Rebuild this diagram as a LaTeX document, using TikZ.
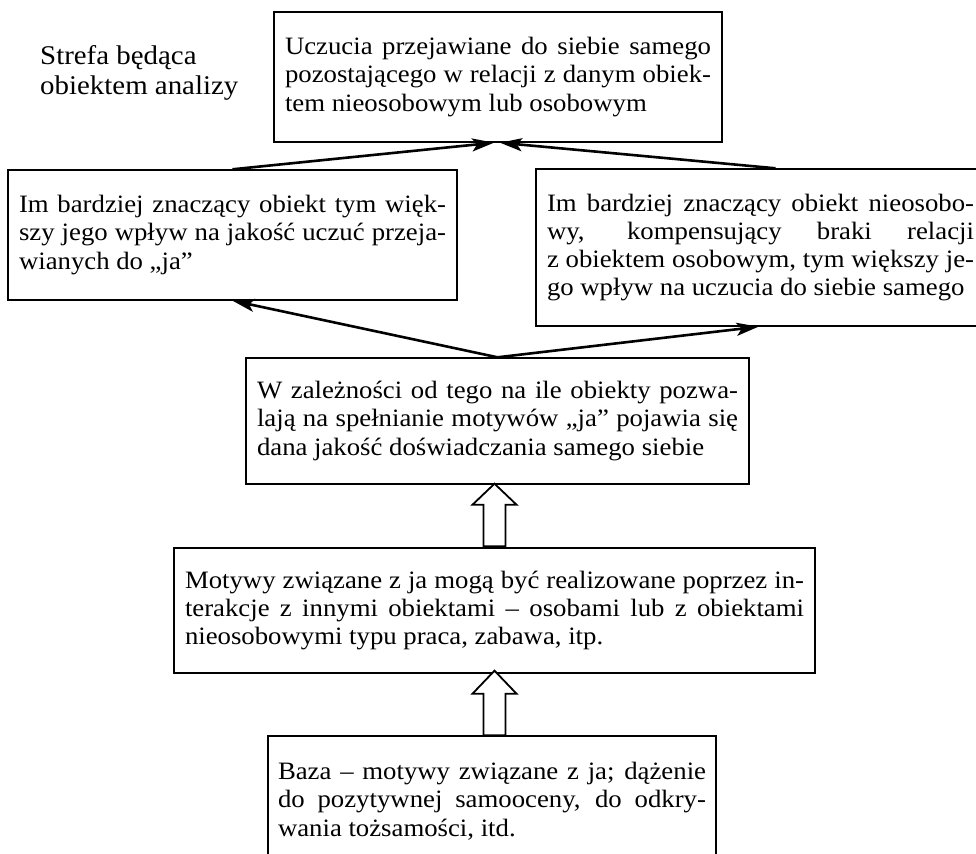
\documentclass[tikz,border=0pt]{standalone}
\usepackage{fontspec}
\setmainfont{Liberation Serif}[FakeStretch=1.07]
\usetikzlibrary{arrows.meta,calc}
\newlength{\boxw}
\newcommand{\jl}[1]{\leavevmode\hbox to \boxw{\spaceskip=\fontdimen2\font plus 1fil minus 0.12em\relax #1}}
\newcommand{\lastl}[1]{\leavevmode\hbox to \boxw{\spaceskip=\fontdimen2\font\relax #1\hfil}}
\begin{document}
\begin{tikzpicture}[x=1pt,y=-1pt,
  box/.style={draw, line width=1.4pt, rectangle, inner sep=0pt, align=left,
    font=\fontsize{25}{28.3}\selectfont},
  conn/.style={line width=2.6pt, -{Stealth[length=22pt,width=13pt,inset=5pt]}},
  hollow/.style={draw, line width=1.8pt, fill=white, line join=miter},
  lbl/.style={align=left, font=\fontsize{27}{30}\selectfont, inner sep=0pt}]
\useasboundingbox (0,0) rectangle (976,853);
\clip (0,0) rectangle (976,853);
\fill[white] (0,0) rectangle (976,853);

\node[lbl, anchor=base west] (strefa) at (40,95) {Strefa będąca\\obiektem analizy};

\node[box, minimum width=448pt, minimum height=130pt, text width=426pt] (top) at (498,77)
 {\global\boxw=426pt
  \jl{Uczucia przejawiane do siebie samego}\\
  \jl{pozostającego w relacji z danym obiek-}\\
  \lastl{tem nieosobowym lub osobowym}};

\node[box, minimum width=449pt, minimum height=130pt, text width=427pt] (lft) at (232.5,235)
 {\global\boxw=427pt
  \jl{Im bardziej znaczący obiekt tym więk-}\\
  \jl{szy jego wpływ na jakość uczuć przeja-}\\
  \lastl{wianych do „ja”}};

\node[box, minimum width=449pt, minimum height=157pt, text width=427pt] (rgt) at (760.5,247.5)
 {\global\boxw=427pt
  \jl{Im bardziej znaczący obiekt nieosobo-}\\
  \jl{wy, kompensujący braki relacji}\\
  \jl{z obiektem osobowym, tym większy je-}\\
  \lastl{go wpływ na uczucia do siebie samego}};

\node[box, minimum width=503pt, minimum height=126pt, text width=481pt] (wb) at (497.5,421)
 {\global\boxw=481pt
  \jl{W zależności od tego na ile obiekty pozwa-}\\
  \jl{lają na spełnianie motywów „ja” pojawia się}\\
  \lastl{dana jakość doświadczania samego siebie}};

\node[box, minimum width=641pt, minimum height=125pt, text width=619pt] (mot) at (494.5,610.5)
 {\global\boxw=619pt
  \jl{Motywy związane z ja mogą być realizowane poprzez in-}\\
  \jl{terakcje z innymi obiektami – osobami lub z obiektami}\\
  \lastl{nieosobowymi typu praca, zabawa, itp.}};

\node[box, minimum width=448pt, minimum height=130pt, text width=428pt] (baza) at (492,801)
 {\global\boxw=428pt
  \jl{Baza – motywy związane z ja; dążenie}\\
  \jl{do pozytywnej samooceny, do odkry-}\\
  \lastl{wania tożsamości, itd.}};

\draw[conn] (lft.north) -- ($(top.south)+(-4,0)$);
\draw[conn] ($(rgt.north)+(15,0)$) -- ($(top.south)+(2,0)$);
\draw[conn] (wb.north) -- (lft.south);
\draw[conn] (wb.north) -- ($(rgt.south)+(-2,0)$);

\coordinate (h1b) at (mot.north);
\coordinate (h1t) at (wb.south -| mot.north);
\draw[hollow] ($(h1b)+(-11,-1)$) -- ($(h1t)+(-11,20)$) -- ($(h1t)+(-22,20)$) -- ($(h1t)+(0,-1)$)
  -- ($(h1t)+(22,20)$) -- ($(h1t)+(11,20)$) -- ($(h1b)+(11,-1)$) -- cycle;

\coordinate (h2b) at (baza.north -| mot.south);
\coordinate (h2t) at (mot.south);
\draw[hollow] ($(h2b)+(-11,0)$) -- ($(h2t)+(-11,20)$) -- ($(h2t)+(-22,20)$) -- ($(h2t)+(0,-3)$)
  -- ($(h2t)+(22,20)$) -- ($(h2t)+(11,20)$) -- ($(h2b)+(11,0)$) -- cycle;
\end{tikzpicture}
\end{document}
